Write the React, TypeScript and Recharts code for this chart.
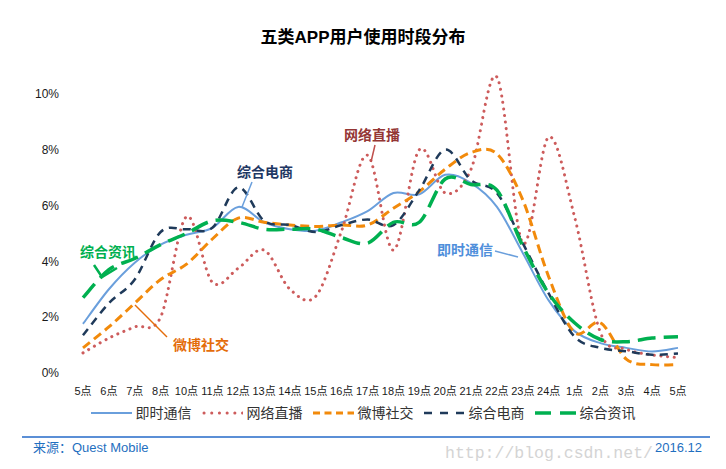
import React from 'react';
import { LineChart, Line, XAxis, YAxis } from 'recharts';

// 24 time slots as printed on the axis (the source skips 9点)
const hours = ['5点', '6点', '7点', '8点', '10点', '11点', '12点', '13点', '14点', '15点', '16点', '17点',
  '18点', '19点', '20点', '21点', '22点', '23点', '24点', '1点', '2点', '3点', '4点', '5点'];

// share of usage, %
const imValues = [1.76, 3.0, 3.95, 4.6, 4.95, 5.2, 5.95, 5.4, 5.15, 5.1, 5.4, 5.8,
  6.45, 6.4, 7.1, 6.8, 5.95, 4.3, 2.6, 1.5, 1.07, 0.9, 0.77, 0.9];
const liveValues = [0.72, 1.25, 1.65, 2.0, 5.6, 3.25, 3.75, 4.4, 3.0, 2.75, 5.1, 7.8,
  4.4, 8.0, 6.45, 7.3, 10.6, 4.65, 8.45, 5.6, 1.45, 0.85, 0.65, 0.55];
const weiboValues = [0.9, 1.65, 2.5, 3.35, 3.9, 4.8, 5.55, 5.4, 5.3, 5.25, 5.3, 5.3,
  5.9, 6.5, 7.3, 7.9, 7.85, 6.2, 3.45, 1.45, 1.8, 0.5, 0.3, 0.3];
const ecomValues = [1.35, 2.5, 3.35, 5.05, 5.15, 5.2, 6.65, 5.45, 5.3, 5.05, 5.3, 5.5,
  5.3, 6.55, 8.0, 6.9, 6.45, 4.65, 2.85, 1.3, 0.9, 0.78, 0.65, 0.7];
const newsValues = [2.7, 3.7, 4.1, 4.6, 5.0, 5.45, 5.4, 5.15, 5.15, 5.15, 4.85, 4.65,
  5.4, 5.4, 6.95, 6.75, 6.55, 4.55, 2.85, 1.8, 1.2, 1.12, 1.25, 1.3];

const yTicks = [0, 2, 4, 6, 8, 10];
const boundaryTicks = hours.map((_, i) => i).concat([hours.length]);

const series = [
  { key: 'im', name: '即时通信', values: imValues, color: '#6a9fdc', width: 2, dash: undefined, legendDash: undefined, cap: 'butt' },
  { key: 'live', name: '网络直播', values: liveValues, color: '#cd5c5c', width: 3, dash: '0.1 6.5', legendDash: '0.1 7.6', cap: 'round' },
  { key: 'weibo', name: '微博社交', values: weiboValues, color: '#f28a0b', width: 3, dash: '9 5', legendDash: '7 4.5', cap: 'butt' },
  { key: 'ecom', name: '综合电商', values: ecomValues, color: '#1f3a5a', width: 2.5, dash: '8 6', legendDash: '8 8', cap: 'butt' },
  { key: 'news', name: '综合资讯', values: newsValues, color: '#00b050', width: 3.5, dash: '18 8', legendDash: '16 9', cap: 'butt' },
];

const data = hours.map((h, i) => {
  const row: Record<string, string | number> = { hour: h };
  series.forEach(s => { row[s.key] = s.values[i]; });
  return row;
});

// Excel-style smoothing (Catmull-Rom through every point)
function smoothCurve(context: any) {
  let pts: number[][] = [];
  return {
    areaStart() {},
    areaEnd() {},
    lineStart() { pts = []; },
    lineEnd() {
      const n = pts.length;
      if (!n) return;
      context.moveTo(pts[0][0], pts[0][1]);
      for (let i = 0; i < n - 1; i++) {
        const p0 = pts[Math.max(i - 1, 0)];
        const p1 = pts[i];
        const p2 = pts[i + 1];
        const p3 = pts[Math.min(i + 2, n - 1)];
        context.bezierCurveTo(
          p1[0] + (p2[0] - p0[0]) / 6, p1[1] + (p2[1] - p0[1]) / 6,
          p2[0] - (p3[0] - p1[0]) / 6, p2[1] - (p3[1] - p1[1]) / 6,
          p2[0], p2[1],
        );
      }
    },
    point(x: number, y: number) { pts.push([+x, +y]); },
  };
}

const font = '"Liberation Sans", Arial, "Noto Sans CJK SC", sans-serif';
const cjk = '"Liberation Sans", "Noto Sans CJK SC", sans-serif';

// callout labels drawn over the plot
const callouts = [
  { text: '综合电商', x: 237, y: 177, color: '#1f3864', line: '252,182 242,207', lineColor: '#6a9fdc', lw: 1.5 },
  { text: '网络直播', x: 344, y: 140, color: '#943634', line: '375,145 371,162', lineColor: '#c0504d', lw: 1.5 },
  { text: '即时通信', x: 437, y: 255, color: '#4f8fdb', line: '495,251 518,257', lineColor: '#6a9fdc', lw: 1.5 },
  { text: '综合资讯', x: 80, y: 257, color: '#00b050', line: '94,265 102,277 117,268', lineColor: '#00b050', lw: 2.5 },
  { text: '微博社交', x: 173, y: 350, color: '#e46c0a', line: '135,305 167,337', lineColor: '#e46c0a', lw: 1.5 },
];

export default function App() {
  return (
    <div style={{ position: 'absolute', left: 0, top: 0, width: 726, height: 469, background: '#fff', fontFamily: font, overflow: 'hidden' }}>
      <div style={{ position: 'absolute', top: 26, left: 0, width: 726, textAlign: 'center', fontFamily: cjk, fontWeight: 'bold', fontSize: 17, color: '#000', lineHeight: '24px' }}>
        五类APP用户使用时段分布
      </div>

      <div style={{ position: 'absolute', left: 0, top: 0 }}>
        <LineChart width={726} height={469} data={data} margin={{ top: 38, right: 35, bottom: 66, left: 0 }}>
          <XAxis
            xAxisId="grid"
            type="number"
            domain={[0, hours.length]}
            ticks={boundaryTicks}
            height={0}
            mirror
            tickSize={4}
            tickFormatter={() => ''}
            axisLine={{ stroke: '#b3b3b3', strokeWidth: 1.5 }}
            tickLine={{ stroke: '#b3b3b3', strokeWidth: 1.5 }}
          />
          <XAxis
            dataKey="hour"
            height={30}
            interval={0}
            padding={{ left: 13, right: 13 }}
            axisLine={false}
            tickLine={false}
            tickMargin={8}
            tick={{ fontSize: 11, fill: '#1a1a1a', fontFamily: cjk }}
          />
          <YAxis
            domain={[0, 12]}
            ticks={yTicks}
            width={70}
            axisLine={false}
            tickLine={false}
            tickMargin={5}
            tickFormatter={(v: number) => `${v}%`}
            tick={{ fontSize: 12, fill: '#1a1a1a', fontFamily: font }}
          />
          {series.map(s => (
            <Line
              key={s.key}
              type={smoothCurve as any}
              dataKey={s.key}
              name={s.name}
              stroke={s.color}
              strokeWidth={s.width}
              strokeDasharray={s.dash}
              strokeLinecap={s.cap as 'butt' | 'round'}
              dot={false}
              activeDot={false}
              isAnimationActive={false}
            />
          ))}
        </LineChart>
      </div>

      <svg width={726} height={469} style={{ position: 'absolute', left: 0, top: 0, pointerEvents: 'none' }}>
        {callouts.map(c => (
          <g key={c.text}>
            <polyline points={c.line} fill="none" stroke={c.lineColor} strokeWidth={c.lw} />
            <text x={c.x} y={c.y} fill={c.color} fontSize={14} fontWeight="bold" fontFamily={cjk}>{c.text}</text>
          </g>
        ))}
        <line x1={22} y1={437} x2={710} y2={437} stroke="#5b8fd6" strokeWidth={2} />
        <text x={445} y={458} fill="#d4d4d4" fontSize={16.5} fontFamily='"Liberation Mono", monospace'>http://blog.csdn.net/</text>
        <text x={33} y={452} fill="#1f6fc0" fontSize={13} fontFamily={cjk}>来源：Quest Mobile</text>
        <text x={655} y={452} fill="#1f6fc0" fontSize={13} fontFamily={font}>2016.12</text>
      </svg>

      <div style={{ position: 'absolute', top: 402, left: 0, width: 726, display: 'flex', justifyContent: 'center', alignItems: 'center', gap: 10 }}>
        {series.map(s => (
          <div key={s.key} style={{ display: 'flex', alignItems: 'center' }}>
            <svg width={41} height={10} style={{ marginRight: 4 }}>
              <line x1={s.cap === 'round' ? 2 : 0} y1={5} x2={41} y2={5} stroke={s.color} strokeWidth={s.width}
                strokeDasharray={s.legendDash} strokeLinecap={s.cap as 'butt' | 'round'} />
            </svg>
            <span style={{ fontSize: 14, color: '#333', fontFamily: cjk, lineHeight: '22px' }}>{s.name}</span>
          </div>
        ))}
      </div>
    </div>
  );
}
